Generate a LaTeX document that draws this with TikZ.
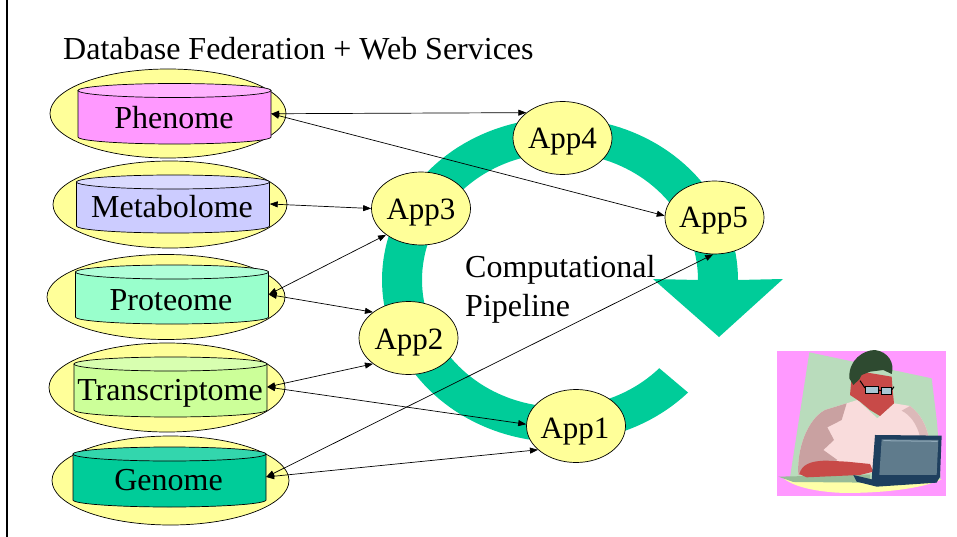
\documentclass[tikz,border=0pt]{standalone}
\usepackage{fontspec}
\setmainfont{Liberation Serif}
\usetikzlibrary{shapes.geometric,arrows.meta}

\definecolor{padyellow}{HTML}{FFFF99}
\definecolor{ringgreen}{HTML}{00CC99}
\definecolor{pheBody}{HTML}{FF99FF}\definecolor{pheCap}{HTML}{FFB3FF}
\definecolor{metBody}{HTML}{CCCCFF}\definecolor{metCap}{HTML}{DADAFF}
\definecolor{proBody}{HTML}{99FFCC}\definecolor{proCap}{HTML}{B0FFD8}
\definecolor{traBody}{HTML}{CCFF99}\definecolor{traCap}{HTML}{D8FFB0}
\definecolor{genBody}{HTML}{00CC99}\definecolor{genCap}{HTML}{33D6AD}
% clip-art palette
\definecolor{artPink}{HTML}{FF99FF}
\definecolor{artSage}{HTML}{B9DCBC}
\definecolor{artSageDark}{HTML}{98BC98}
\definecolor{artDesk}{HTML}{FFFFA8}
\definecolor{artShirt}{HTML}{F9DCDC}
\definecolor{artShirtShade}{HTML}{C9A1A1}
\definecolor{artSkin}{HTML}{C84A48}
\definecolor{artHair}{HTML}{2E4A30}
\definecolor{artLens}{HTML}{A9C7D4}
\definecolor{artLaptop}{HTML}{1E3F5E}
\definecolor{artScreen}{HTML}{5F7B8C}
\definecolor{artEdge}{HTML}{8FA8B8}

\tikzset{
  pad/.style={ellipse, draw=black, fill=padyellow, inner sep=0pt, line width=0.7pt},
  dbbody/.style={rectangle, inner sep=0pt, minimum width=193pt, minimum height=46pt},
  dblabel/.style={anchor=base, inner sep=0pt, font=\fontsize{32}{38}\selectfont},
  appnode/.style={ellipse, draw=black, fill=padyellow, inner sep=0pt,
    minimum width=99pt, minimum height=73pt, line width=0.7pt},
  applabel/.style={anchor=base, inner sep=0pt, font=\fontsize{31}{37}\selectfont},
  plain/.style={anchor=base west, inner sep=0pt, font=\fontsize{32}{38}\selectfont},
  link/.style={draw=black, line width=0.7pt,
    {Triangle[length=8pt,width=6pt]}-{Triangle[length=8pt,width=6pt]}},
}

% #1 node name, #2 centre x, #3 top y, #4 bottom y, #5 body colour, #6 cap colour
\newcommand\dbcylinder[6]{%
  \path[draw=black, fill=#5, line width=0.7pt]
    ({#2-96.5},#3) -- ({#2-96.5},#4)
    arc[start angle=180, end angle=360, x radius=96.5pt, y radius=7pt]
    -- ({#2+96.5},#3) -- cycle;
  \path[draw=black, fill=#6, line width=0.7pt]
    (#2,#3) ellipse[x radius=96.5pt, y radius=7pt];
  \node[dbbody] (#1) at (#2,{(#3+#4)/2}) {};
}

\begin{document}
\begin{tikzpicture}[x=1pt, y=-1pt]
\useasboundingbox (0,0) rectangle (957,537);

% frame line on the left
\draw[line width=2pt] (7,0) -- (7,537);

% title
\node[plain] (title) at (63,60) {Database Federation + Web Services};

% circular pipeline arrow
\fill[ringgreen]
  plot[domain=44:360, samples=140] ({560+178*cos(\x)}, {280+162*sin(\x)})
  -- (783,279) -- (719,337) -- (653,279)
  -- plot[domain=360:44, samples=140] ({560+138*cos(\x)}, {280+127*sin(\x)})
  -- cycle;

\node[plain] (comp) at (465,277) {Computational};
\node[plain] (pipe) at (465,316) {Pipeline};

% databases
\node[pad, minimum width=236pt, minimum height=89pt] (pheP) at (168,113.5) {};
\dbcylinder{phe}{174.5}{90.5}{137}{pheBody}{pheCap}
\node[dblabel] (pheL) at (174,129) {Phenome};

\node[pad, minimum width=234pt, minimum height=87pt] (metP) at (170,204.5) {};
\dbcylinder{met}{173}{182}{226}{metBody}{metCap}
\node[dblabel] (metL) at (172,218) {Metabolome};

\node[pad, minimum width=238pt, minimum height=85pt] (proP) at (166,297) {};
\dbcylinder{pro}{172}{272}{317}{proBody}{proCap}
\node[dblabel] (proL) at (171,310) {Proteome};

\node[pad, minimum width=236pt, minimum height=89pt] (traP) at (167,387.5) {};
\dbcylinder{tra}{170.5}{364}{410}{traBody}{traCap}
\node[dblabel] (traL) at (170,400) {Transcriptome};

\node[pad, minimum width=237pt, minimum height=89pt] (genP) at (170.5,480.5) {};
\dbcylinder{gen}{169.5}{454}{500}{genBody}{genCap}
\node[dblabel] (genL) at (168.5,490) {Genome};

% applications on the ring
\node[appnode] (app4) at (562.5,138) {};
\node[appnode] (app3) at (421,208.5) {};
\node[appnode] (app5) at (714.5,217.5) {};
\node[appnode] (app2) at (408.5,338) {};
\node[appnode] (app1) at (576,426) {};
\node[applabel] (app4L) at (562.5,149) {App4};
\node[applabel] (app3L) at (421,219) {App3};
\node[applabel] (app5L) at (713.5,228) {App5};
\node[applabel] (app2L) at (409,349) {App2};
\node[applabel] (app1L) at (575,438) {App1};

% service links
\draw[link] (phe.east) -- (app4.145);
\draw[link] (phe.east) -- (app5.178);
\draw[link] (met.east) -- (app3.west);
\draw[link] (pro.east) -- (app3.217);
\draw[link] (pro.east) -- (app2.144);
\draw[link] (tra.east) -- (app2.216);
\draw[link] (tra.east) -- (app1.178);
\draw[link] (gen.east) -- (app1.212);
\draw[link] (gen.east) -- (app5.268);

% user at a laptop
\begin{scope}[shift={(770,340)}, x=0.3333pt, y=-0.3333pt]
  \fill[artPink] (22,32) rectangle (528,468);
  \fill[artSage] (118,37) -- (485,115) -- (502,255) -- (512,420) -- (60,412) -- cycle;
  % desk top and its shadow
  \fill[artDesk] (40,415) -- (515,418) .. controls (450,450) and (300,462) .. (200,458)
    .. controls (120,452) and (70,438) .. (40,415) -- cycle;
  \fill[artSageDark] (25,410) -- (300,404) -- (300,428) -- (70,426) -- cycle;
  % shirt
  \fill[artShirt] (85,405) .. controls (80,330) and (110,240) .. (165,210)
    -- (230,190) -- (262,180) -- (322,235) -- (372,190) -- (420,198)
    .. controls (455,225) and (470,260) .. (478,300) -- (480,340) -- (300,400) -- cycle;
  \fill[artShirtShade] (85,405) .. controls (80,330) and (110,240) .. (165,210)
    -- (230,190) -- (215,240) -- (172,262) -- (192,300) -- (160,330) -- (202,360)
    -- (150,398) -- cycle;
  \fill[artShirtShade!60!artShirt] (420,198) .. controls (455,225) and (470,260) .. (478,300)
    -- (450,290) .. controls (440,250) and (420,225) .. (395,212) -- cycle;
  % forearm
  \fill[artSkin] (88,402) .. controls (95,375) and (120,362) .. (170,362)
    -- (230,365) -- (300,372) -- (310,395) -- (270,405) -- (200,408) -- (110,412) -- cycle;
  % face and neck
  \fill[artSkin] (240,165) -- (245,110) -- (275,95) -- (365,110) -- (368,150)
    -- (372,190) -- (330,228) -- (300,210) -- (270,185) -- cycle;
  % hair
  \fill[artHair] (238,115) .. controls (235,60) and (280,30) .. (315,30)
    .. controls (355,35) and (375,70) .. (365,102) -- (340,90) -- (300,95)
    -- (275,105) -- (268,118) -- (250,135) -- cycle;
  % glasses
  \draw[line width=1pt, fill=artLens] (285,140) rectangle (325,160);
  \draw[line width=1pt, fill=artLens] (335,143) rectangle (365,163);
  \draw[line width=1pt] (325,150) -- (335,152) (270,122) -- (285,144) (365,150) -- (372,140);
  % laptop
  \fill[artLaptop] (250,405) -- (305,418) -- (510,410) -- (500,428) -- (320,440) -- (260,425) -- cycle;
  \fill[artLaptop] (315,285) -- (515,287) -- (510,412) -- (305,420) -- cycle;
  \fill[artScreen] (335,298) -- (505,300) -- (500,405) -- (328,405) -- cycle;
  \draw[artEdge, line width=1pt] (340,302) -- (503,304);
\end{scope}
\end{tikzpicture}
\end{document}
